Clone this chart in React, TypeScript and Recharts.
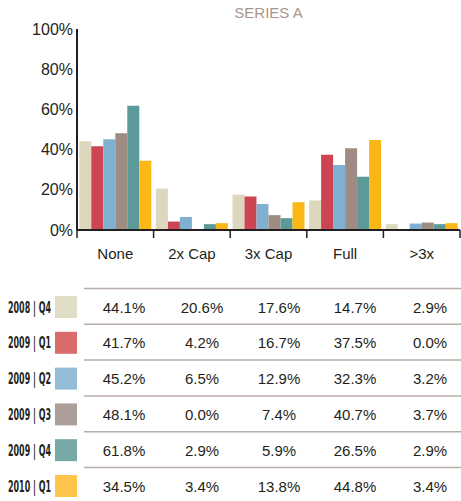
import React from "react";
import { BarChart, Bar, XAxis, YAxis } from "recharts";

const categories = ["None", "2x Cap", "3x Cap", "Full", ">3x"];
const seriesLabels = ["2008 | Q4", "2009 | Q1", "2009 | Q2", "2009 | Q3", "2009 | Q4", "2010 | Q1"];
const q4_2008 = [44.1, 20.6, 17.6, 14.7, 2.9];
const q1_2009 = [41.7, 4.2, 16.7, 37.5, 0.0];
const q2_2009 = [45.2, 6.5, 12.9, 32.3, 3.2];
const q3_2009 = [48.1, 0.0, 7.4, 40.7, 3.7];
const q4_2009 = [61.8, 2.9, 5.9, 26.5, 2.9];
const q1_2010 = [34.5, 3.4, 13.8, 44.8, 3.4];
const yTicks = [0, 20, 40, 60, 80, 100];

const seriesValues = [q4_2008, q1_2009, q2_2009, q3_2009, q4_2009, q1_2010];
const barColors = ["#ddd7be", "#cd4453", "#7fb0d0", "#9e8b82", "#5b9a98", "#fbb716"];
const swatchColors = ["#e0dec7", "#d96b6b", "#93bdd6", "#ad9f98", "#77aaa6", "#fec54b"];

const keys = seriesLabels.map((_, i) => `s${i}`);
const data = categories.map((name, c) => {
  const row: Record<string, string | number> = { name };
  seriesValues.forEach((vals, i) => {
    row[keys[i]] = vals[c];
  });
  return row;
});

const FONT = "'Liberation Sans', Arial, Helvetica, sans-serif";
const INK = "#231f20";
const W = 461;
const CHART_H = 270;
const PLOT_LEFT = 77;
const PLOT_RIGHT = 460;
const BAND = (PLOT_RIGHT - PLOT_LEFT) / categories.length;

const XTick = (props: any) => {
  const { x, y, payload, index } = props;
  const left = x - BAND / 2;
  return (
    <g>
      <line x1={left} x2={left} y1={y - 8} y2={y} stroke={INK} strokeWidth={1.5} />
      {index === categories.length - 1 && (
        <line x1={left + BAND} x2={left + BAND} y1={y - 8} y2={y} stroke={INK} strokeWidth={1.5} />
      )}
      <text x={x} y={y + 21} textAnchor="middle" fontSize={15} fill={INK} fontFamily={FONT}>
        {payload.value}
      </text>
    </g>
  );
};

// table column centres and row geometry
const colX = [124, 202, 279, 355, 430];
const ROW_H = 35.8;
const TABLE_TOP = 288.5 - CHART_H;

export default function App() {
  return (
    <div style={{ position: "absolute", left: 0, top: 0, width: W, height: 501, background: "#fff" }}>
      <div
        style={{
          position: "absolute",
          top: 4,
          left: PLOT_LEFT,
          width: PLOT_RIGHT - PLOT_LEFT,
          textAlign: "center",
          fontFamily: FONT,
          fontSize: 15,
          color: "#a8968e",
        }}
      >
        SERIES A
      </div>
      <div style={{ position: "absolute", left: 0, top: 0 }}>
        <BarChart
          width={W}
          height={CHART_H}
          data={data}
          margin={{ top: 29, right: W - PLOT_RIGHT, left: 0, bottom: 10 }}
          barCategoryGap="3%"
          barGap={0}
        >
          <XAxis
            dataKey="name"
            height={30}
            axisLine={{ stroke: INK, strokeWidth: 2 }}
            tickLine={false}
            tickSize={8}
            tickMargin={0}
            tick={<XTick />}
            interval={0}
          />
          <YAxis
            width={PLOT_LEFT}
            domain={[0, 100]}
            ticks={yTicks}
            axisLine={{ stroke: INK, strokeWidth: 2 }}
            tickLine={false}
            tickSize={0}
            tickMargin={4}
            tickFormatter={(v: number) => `${v}%`}
            tick={{ fontSize: 16, fill: INK, fontFamily: FONT }}
          />
          {keys.map((k, i) => (
            <Bar key={k} dataKey={k} fill={barColors[i]} isAnimationActive={false} />
          ))}
        </BarChart>
      </div>
      <svg style={{ position: "absolute", left: 0, top: CHART_H }} width={W} height={501 - CHART_H}>
        {seriesLabels.map((label, i) => {
          const sepY = TABLE_TOP + i * ROW_H;
          const cy = sepY + 18.5;
          return (
            <g key={label}>
              <line x1={84} x2={W} y1={sepY} y2={sepY} stroke="#b8aca6" strokeWidth={1.5} />
              <text
                x={8}
                y={cy + 5.5}
                fontSize={15}
                fontWeight={700}
                fill={INK}
                fontFamily="'Liberation Sans Narrow', 'DejaVu Sans Condensed', sans-serif"
                textLength={43}
                lengthAdjust="spacingAndGlyphs"
              >
                {label}
              </text>
              <rect x={55} y={cy - 11} width={22} height={22} fill={swatchColors[i]} />
              {seriesValues[i].map((v, c) => (
                <text key={c} x={colX[c]} y={cy + 5.5} textAnchor="middle" fontSize={15} fill={INK} fontFamily={FONT}>
                  {`${v.toFixed(1)}%`}
                </text>
              ))}
            </g>
          );
        })}
      </svg>
    </div>
  );
}
